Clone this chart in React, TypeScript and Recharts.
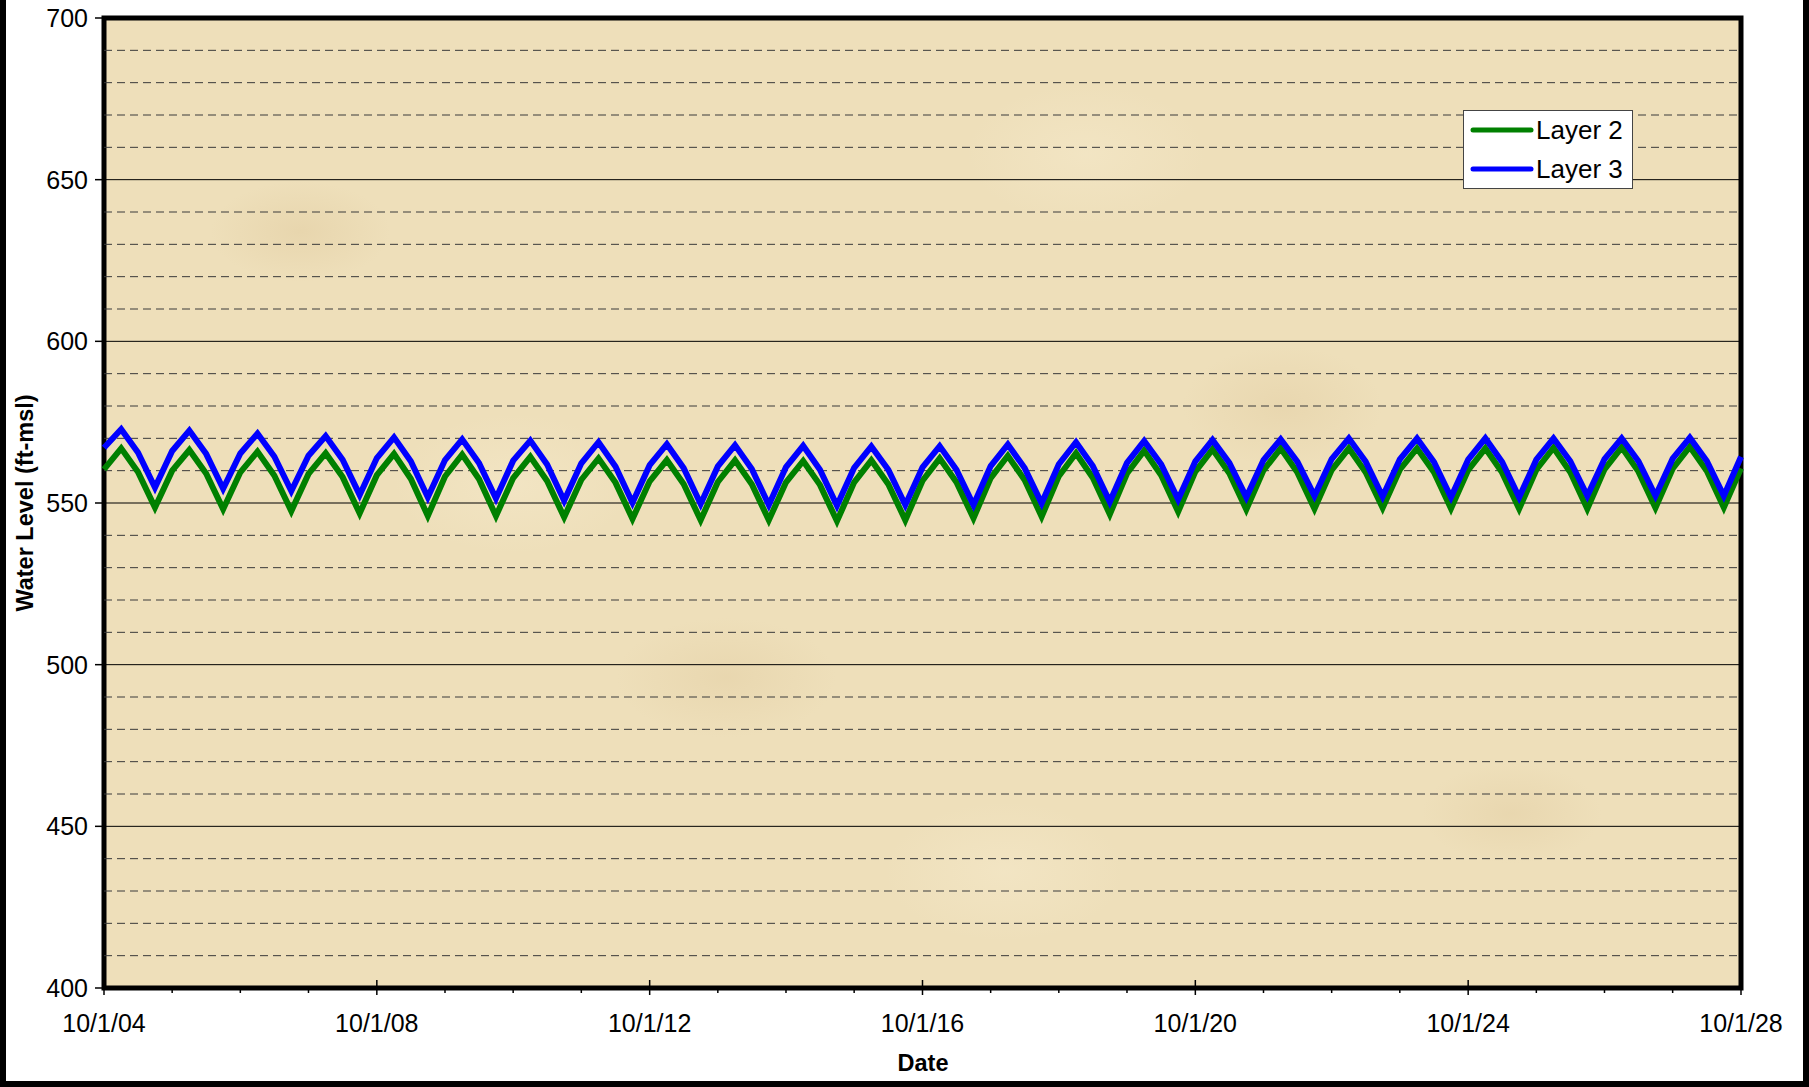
import { LineChart, Line, XAxis, YAxis, ReferenceLine, ReferenceArea, Legend } from "recharts";

// quarterly values, one row per water year: Oct, Jan, Apr, Jul (last entry = 10/1/28)
const layer2 = [
  560.4, 566.9, 559.6, 548.6,
  560.0, 566.4, 559.1, 548.1,
  559.5, 565.9, 558.5, 547.5,
  559.0, 565.4, 558.0, 546.8,
  558.6, 565.2, 557.5, 546.0,
  558.2, 565.0, 557.4, 546.0,
  557.7, 564.3, 556.8, 545.6,
  557.2, 563.8, 556.3, 545.1,
  556.7, 563.3, 555.9, 544.7,
  556.5, 563.2, 555.8, 544.7,
  556.4, 563.0, 555.6, 544.4,
  556.4, 563.2, 555.8, 544.7,
  556.9, 563.8, 556.4, 545.3,
  557.7, 564.6, 557.1, 545.8,
  558.3, 565.4, 557.8, 546.5,
  559.1, 566.2, 558.6, 547.3,
  559.7, 566.6, 559.2, 548.0,
  560.1, 566.9, 559.4, 548.2,
  560.2, 566.9, 559.5, 548.5,
  560.3, 566.9, 559.5, 548.3,
  560.2, 566.9, 559.4, 548.2,
  560.3, 567.1, 559.5, 548.2,
  560.4, 567.2, 559.7, 548.5,
  560.6, 567.4, 559.9, 548.6,
  560.7,
];

const layer3 = [
  567.1, 572.8, 565.6, 554.8,
  566.1, 572.4, 565.2, 554.4,
  565.3, 571.5, 564.4, 553.7,
  564.6, 570.7, 563.4, 552.5,
  563.9, 570.3, 562.9, 551.8,
  563.3, 569.7, 562.4, 551.4,
  563.1, 569.3, 561.9, 550.7,
  562.3, 568.8, 561.3, 550.1,
  561.7, 568.2, 560.8, 549.7,
  561.3, 567.9, 560.5, 549.4,
  561.1, 567.7, 560.3, 549.2,
  560.9, 567.5, 560.3, 549.4,
  561.0, 567.6, 560.3, 549.4,
  561.4, 568.1, 560.8, 549.9,
  562.0, 568.8, 561.4, 550.4,
  562.4, 569.2, 562.0, 551.1,
  562.9, 569.5, 562.4, 551.8,
  563.3, 569.7, 562.7, 552.2,
  563.6, 570.0, 562.8, 552.0,
  563.5, 570.0, 562.7, 551.8,
  563.4, 570.0, 562.7, 551.8,
  563.4, 570.0, 562.9, 552.2,
  563.6, 570.0, 562.9, 552.2,
  563.7, 570.2, 563.0, 552.2,
  564.3,
];

const tickYears = [
  2004, 2005, 2006, 2007, 2008, 2009, 2010, 2011, 2012, 2013, 2014, 2015, 2016,
  2017, 2018, 2019, 2020, 2021, 2022, 2023, 2024, 2025, 2026, 2027, 2028,
];
const dateLabels = ["10/1/04", "10/1/08", "10/1/12", "10/1/16", "10/1/20", "10/1/24", "10/1/28"];
const yTicks = [400, 450, 500, 550, 600, 650, 700];
const majorGrid = [450, 500, 550, 600, 650];
const minorGrid = [
  410, 420, 430, 440, 460, 470, 480, 490, 510, 520, 530, 540, 560, 570, 580, 590,
  610, 620, 630, 640, 660, 670, 680, 690,
];

const data = layer2.map((v, i) => ({
  t: Date.UTC(2004, 9 + 3 * i, 1),
  layer2: v,
  layer3: layer3[i],
}));

const xStart = Date.UTC(2004, 9, 1);
const xEnd = Date.UTC(2028, 9, 1);
const xTicks = tickYears.map((y) => Date.UTC(y, 9, 1));

const FONT = "'Liberation Sans', Arial, sans-serif";

const XTick = ({ x, y, payload }: any) => {
  const yr = new Date(payload.value).getUTCFullYear();
  const major = (yr - 2004) % 4 === 0;
  return (
    <g>
      <line x1={x} x2={x} y1={major ? y - 8 : y} y2={y + (major ? 7 : 5)} stroke="#000" strokeWidth={1.5} />
      {major && (
        <text x={x} y={y + 44} textAnchor="middle" fontSize={25} fill="#000" fontFamily={FONT}>
          {dateLabels[(yr - 2004) / 4]}
        </text>
      )}
    </g>
  );
};

const LegendBox = () => (
  <div
    style={{
      width: 170,
      height: 79,
      boxSizing: "border-box",
      background: "#fff",
      border: "1.5px solid #444",
      position: "relative",
      fontFamily: FONT,
      fontSize: 26,
      color: "#000",
    }}
  >
    {[
      { name: "Layer 2", color: "#008000", top: 19 },
      { name: "Layer 3", color: "#0000ff", top: 58 },
    ].map((it) => (
      <div key={it.name} style={{ position: "absolute", left: 0, top: it.top - 16, height: 32, display: "flex", alignItems: "center" }}>
        <svg width={70} height={32} style={{ display: "block" }}>
          <line x1={9} x2={67} y1={16} y2={16} stroke={it.color} strokeWidth={5} strokeLinecap="round" />
        </svg>
        <span style={{ marginLeft: 2, lineHeight: "32px" }}>{it.name}</span>
      </div>
    ))}
  </div>
);

export default function App() {
  return (
    <div style={{ position: "absolute", left: 0, top: 0, width: 1809, height: 1087, overflow: "hidden", background: "#fff" }}>
      {/* outer frame, top edge is off the picture */}
      <div
        style={{
          position: "absolute",
          left: 0,
          top: -30,
          width: 1809,
          height: 1117,
          boxSizing: "border-box",
          border: "6px solid #000",
        }}
      />
      {/* parchment plot background */}
      <div
        style={{
          position: "absolute",
          left: 104,
          top: 18,
          width: 1637,
          height: 970,
          backgroundColor: "#eedfba",
          backgroundImage:
            "radial-gradient(ellipse 90px 50px at 12% 22%, rgba(220,196,150,0.35), transparent)," +
            "radial-gradient(ellipse 110px 60px at 38% 68%, rgba(220,196,150,0.3), transparent)," +
            "radial-gradient(ellipse 100px 60px at 72% 40%, rgba(220,196,150,0.3), transparent)," +
            "radial-gradient(ellipse 90px 50px at 86% 82%, rgba(220,196,150,0.3), transparent)," +
            "radial-gradient(ellipse 120px 70px at 25% 48%, rgba(246,234,204,0.5), transparent)," +
            "radial-gradient(ellipse 120px 70px at 60% 14%, rgba(246,234,204,0.5), transparent)," +
            "radial-gradient(ellipse 120px 70px at 55% 88%, rgba(246,234,204,0.5), transparent)",
        }}
      />
      <div style={{ position: "absolute", left: 0, top: 0 }}>
        <LineChart width={1809} height={1087} data={data} margin={{ top: 18, right: 68, bottom: 39, left: 44 }}>
          <XAxis
            dataKey="t"
            type="number"
            scale="time"
            domain={[xStart, xEnd]}
            ticks={xTicks}
            interval={0}
            tick={<XTick />}
            tickSize={0}
            tickMargin={0}
            axisLine={false}
            height={60}
            label={() => (
              <text x={923} y={1071} textAnchor="middle" fontSize={23.5} fontWeight="bold" fill="#000" fontFamily={FONT}>
                Date
              </text>
            )}
          />
          <YAxis
            type="number"
            domain={[400, 700]}
            ticks={yTicks}
            interval={0}
            width={60}
            axisLine={false}
            tickSize={9}
            tickMargin={7}
            tickLine={{ stroke: "#000", strokeWidth: 1.5 }}
            tick={{ fill: "#000", fontSize: 25, fontFamily: FONT }}
            label={() => (
              <text
                x={25}
                y={503}
                transform="rotate(-90, 25, 503)"
                textAnchor="middle"
                dominantBaseline="central"
                fontSize={23.5}
                fontWeight="bold"
                fill="#000"
                fontFamily={FONT}
              >
                Water Level (ft-msl)
              </text>
            )}
          />
          {minorGrid.map((v) => (
            <ReferenceLine key={"m" + v} y={v} stroke="#3a3a3a" strokeWidth={1} strokeDasharray="8 5" />
          ))}
          {majorGrid.map((v) => (
            <ReferenceLine key={"M" + v} y={v} stroke="#000" strokeWidth={1} />
          ))}
          <Line type="linear" dataKey="layer2" name="Layer 2" stroke="#008000" strokeWidth={6} dot={false} activeDot={false} isAnimationActive={false} />
          <Line type="linear" dataKey="layer3" name="Layer 3" stroke="#0000ff" strokeWidth={6} dot={false} activeDot={false} isAnimationActive={false} />
          <ReferenceArea x1={xStart} x2={xEnd} y1={400} y2={700} fill="none" stroke="#000" strokeWidth={5} />
          <Legend
            layout="vertical"
            align="center"
            verticalAlign="middle"
            content={<LegendBox />}
            wrapperStyle={{ left: 1463, top: 110, width: 170, height: 79 }}
          />
        </LineChart>
      </div>
    </div>
  );
}
